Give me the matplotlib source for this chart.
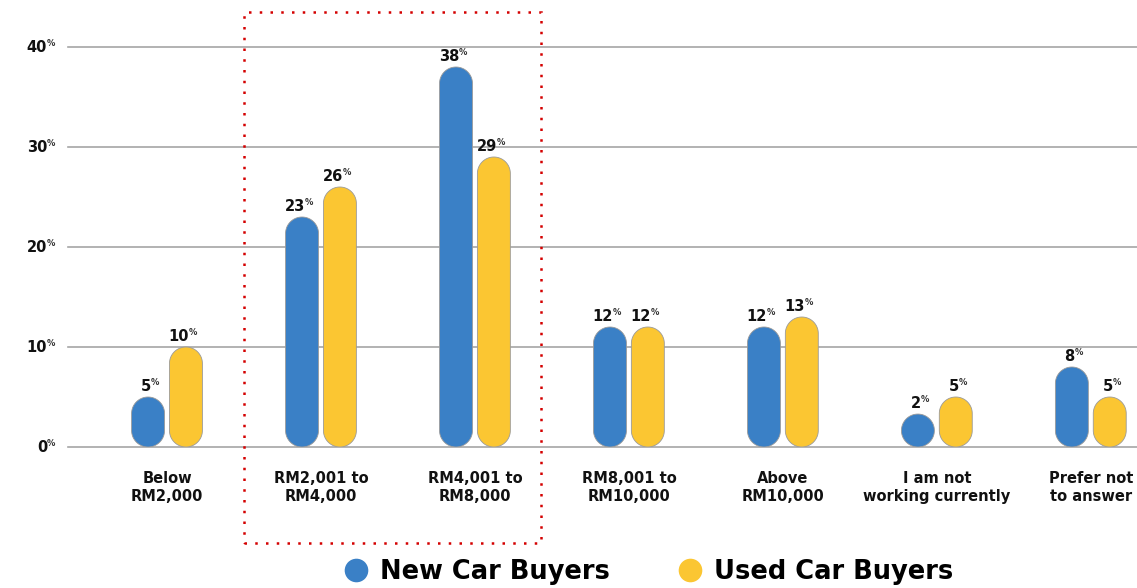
import numpy as np
import matplotlib
matplotlib.use("Agg")
import matplotlib.pyplot as plt
from matplotlib.patches import Polygon, Rectangle
from matplotlib.lines import Line2D

categories = ["Below\nRM2,000", "RM2,001 to\nRM4,000", "RM4,001 to\nRM8,000",
              "RM8,001 to\nRM10,000", "Above\nRM10,000", "I am not\nworking currently",
              "Prefer not\nto answer"]
new_buyers = [5, 23, 38, 12, 12, 2, 8]
used_buyers = [10, 26, 29, 12, 13, 5, 5]
y_ticks = [0, 10, 20, 30, 40]
series_names = ["New Car Buyers", "Used Car Buyers"]

BLUE = "#3a80c6"
YELLOW = "#fbc632"
GRID = "#a6a6a6"
FONT = "DejaVu Sans"

W, H = 1137, 588
fig = plt.figure(figsize=(W / 100, H / 100), dpi=100)
ax = fig.add_axes([68 / W, (H - 447) / H, 1 - 68 / W, 400 / H])

xmin, xmax = -0.643, 6.30
ymin, ymax = 0, 40
ax.set_xlim(xmin, xmax)
ax.set_ylim(ymin, ymax)
for s in ax.spines.values():
    s.set_visible(False)
ax.set_xticks([])
ax.set_yticks([])

# gridlines
for t in y_ticks:
    ax.axhline(t, color=GRID, lw=1.2, zorder=0, clip_on=False)

# px per x unit / px per y unit, so the caps come out as half circles
bbox = ax.get_position()
px_x = bbox.width * W / (xmax - xmin)
px_y = bbox.height * H / (ymax - ymin)
aspect = px_x / px_y

bar_w = 0.214
offset = 0.123
x = np.arange(len(categories))


def pill(xc, value, color):
    r = bar_w / 2
    ry = r * aspect
    h = max(value, 2 * ry)
    th = np.linspace(0, np.pi, 40)
    top = np.column_stack([xc + r * np.cos(th), h - ry + ry * np.sin(th)])
    bot = np.column_stack([xc - r * np.cos(th), ry - ry * np.sin(th)])
    ax.add_patch(Polygon(np.vstack([top, bot]), closed=True, facecolor=color,
                         edgecolor="#9a9a9a", lw=0.6, zorder=3))
    # value label with small raised percent sign
    ax.annotate(f"{value}", xy=(xc, h), xytext=(3, 6), textcoords="offset pixels",
                ha="right", va="baseline", fontsize=10.5, fontweight="bold",
                family=FONT, color="#111111", zorder=4)
    ax.annotate("%", xy=(xc, h), xytext=(3, 12), textcoords="offset pixels",
                ha="left", va="baseline", fontsize=6, fontweight="bold",
                family=FONT, color="#333333", zorder=4)


for i in range(len(categories)):
    pill(x[i] - offset, new_buyers[i], BLUE)
    pill(x[i] + offset, used_buyers[i], YELLOW)

# category labels
for i, c in enumerate(categories):
    ax.annotate(c, xy=(x[i], 0), xytext=(0, -24), textcoords="offset pixels",
                ha="center", va="top", fontsize=10.5, fontweight="bold",
                family=FONT, color="#111111", linespacing=1.25)

# y tick labels
ytr = ax.get_yaxis_transform()
for t in y_ticks:
    ax.annotate(f"{t}", xy=(0, t), xycoords=ytr, xytext=(-21, -1),
                textcoords="offset pixels", ha="right", va="center",
                fontsize=10.5, fontweight="bold", family=FONT, color="#111111")
    ax.annotate("%", xy=(0, t), xycoords=ytr, xytext=(-21, 3),
                textcoords="offset pixels", ha="left", va="center",
                fontsize=6, fontweight="bold", family=FONT, color="#333333")

# red dotted highlight box
fig.patches.append(Rectangle((244 / W, (H - 543) / H), (541 - 244) / W, (543 - 12) / H,
                             transform=fig.transFigure, fill=False, edgecolor="#d40000",
                             lw=1.8, linestyle=(0, (1, 3.3)), zorder=5))

# legend
handles = [Line2D([], [], marker="o", linestyle="none", markersize=17,
                  markerfacecolor=col, markeredgecolor="none")
           for col in (BLUE, YELLOW)]
fig.legend(handles, series_names, loc="center", bbox_to_anchor=(648 / W, 0.028),
           ncol=2, frameon=False, handlelength=1.0, handletextpad=0.45,
           columnspacing=2.6, prop={"family": FONT, "weight": "bold", "size": 18.5})

fig.savefig("out.png", dpi=100)
